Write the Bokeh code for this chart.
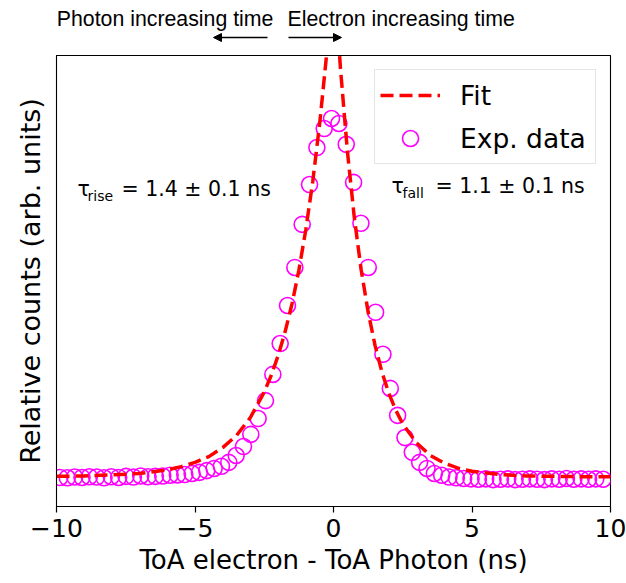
from bokeh.plotting import figure
from bokeh.layouts import column
from bokeh.models import (Range1d, FixedTicker, Label, Arrow, NormalHead,
                          Legend, LegendItem, ColumnDataSource)
from bokeh.core.properties import value
from bokeh.embed import file_html
from bokeh.resources import INLINE

# ---- experimental data (ToA difference in ns, relative counts) ----
exp_x = [-9.875, -9.61, -9.345, -9.08, -8.815, -8.55, -8.285, -8.02, -7.755, -7.49,
         -7.225, -6.96, -6.695, -6.43, -6.165, -5.9, -5.635, -5.37, -5.105, -4.84,
         -4.575, -4.31, -4.045, -3.78, -3.515, -3.25, -2.985, -2.72, -2.455, -2.19,
         -1.925, -1.66, -1.395, -1.13, -0.865, -0.6, -0.335, -0.07,
         0.195, 0.46, 0.725, 0.99, 1.255, 1.52, 1.785, 2.05, 2.315, 2.58,
         2.845, 3.11, 3.375, 3.64, 3.905, 4.17, 4.435, 4.7, 4.965, 5.23,
         5.495, 5.76, 6.025, 6.29, 6.555, 6.82, 7.085, 7.35, 7.615, 7.88,
         8.145, 8.41, 8.675, 8.94, 9.205, 9.47, 9.735]
exp_y = [0.000, -0.001, 0.001, 0.000, 0.002, 0.001, -0.001, 0.002, 0.000, 0.003,
         0.001, 0.004, 0.002, 0.003, 0.004, 0.006, 0.007, 0.008, 0.011, 0.014,
         0.019, 0.025, 0.031, 0.042, 0.061, 0.086, 0.120, 0.164, 0.214, 0.287,
         0.373, 0.479, 0.585, 0.705, 0.816, 0.919, 0.972, 1.000,
         0.986, 0.928, 0.822, 0.708, 0.585, 0.460, 0.343, 0.248, 0.173, 0.111,
         0.070, 0.042, 0.025, 0.011, 0.006, 0.001, -0.001, -0.003, -0.004, -0.005,
         -0.004, -0.006, -0.005, -0.004, -0.006, -0.005, -0.004, -0.005, -0.006, -0.004,
         -0.005, -0.003, -0.005, -0.004, -0.005, -0.004, -0.005]

# ---- fit curve ----
fit_x = [-10, -9, -8, -7, -6.5, -6, -5.5, -5, -4.5, -4, -3.5, -3, -2.5, -2.25, -2,
         -1.75, -1.5, -1.25, -1, -0.75, -0.5, -0.25, 0.01, 0.25, 0.5, 0.75, 1.0,
         1.25, 1.5, 1.75, 2.0, 2.25, 2.5, 3.0, 3.5, 4.0, 4.5, 5.0, 6.0, 7.0, 8.0,
         9.0, 10.0]
fit_y = [0.003, 0.004, 0.007, 0.011, 0.016, 0.021, 0.030, 0.042, 0.058, 0.083, 0.117,
         0.167, 0.238, 0.284, 0.339, 0.405, 0.483, 0.577, 0.690, 0.824, 0.985, 1.177,
         1.418, 1.141, 0.910, 0.725, 0.578, 0.461, 0.368, 0.293, 0.234, 0.187, 0.149,
         0.096, 0.061, 0.040, 0.026, 0.017, 0.008, 0.004, 0.003, 0.002, 0.002]

x_ticks = [-10, -5, 0, 5, 10]
x_tick_labels = ["\u221210", "\u22125", "0", "5", "10"]

rise_text = ("\u03c4", "rise", "= 1.4 \u00b1 0.1 ns")
fall_text = ("\u03c4", "fall", "= 1.1 \u00b1 0.1 ns")
top_texts = ["Photon increasing time", "Electron increasing time"]

BORDER_L, BORDER_R = 56, 16

# ---------------- header strip (texts + arrows above the axes) ----------------
top = figure(frame_width=554, frame_height=55,
             x_range=Range1d(-10, 10), y_range=Range1d(0, 55),
             output_backend="svg", toolbar_location=None,
             x_axis_location=None, y_axis_location=None,
             min_border_left=BORDER_L, min_border_right=BORDER_R,
             min_border_top=0, min_border_bottom=0)
top.outline_line_color = None
top.grid.visible = False
top.background_fill_color = "white"
top.border_fill_color = "white"

top.add_layout(Label(x=-9.99, y=37, text=top_texts[0],
                     text_font="Liberation Sans", text_font_size="21.3px",
                     text_baseline="alphabetic", text_color="black"))
top.add_layout(Label(x=-1.661, y=37, text=top_texts[1],
                     text_font="Liberation Sans", text_font_size="21.3px",
                     text_baseline="alphabetic", text_color="black"))
top.add_layout(Arrow(end=NormalHead(size=8, fill_color="black", line_color="black"),
                     x_start=-2.383, y_start=18, x_end=-4.332, y_end=18,
                     line_width=1.5, line_color="black"))
top.add_layout(Arrow(end=NormalHead(size=8, fill_color="black", line_color="black"),
                     x_start=-1.625, y_start=18, x_end=0.289, y_end=18,
                     line_width=1.5, line_color="black"))

# ---------------- main plot ----------------
p = figure(frame_width=554, frame_height=451,
           x_range=Range1d(-10, 10), y_range=Range1d(-0.081, 1.1755),
           output_backend="svg", toolbar_location=None,
           min_border_left=BORDER_L, min_border_right=BORDER_R,
           min_border_top=0, min_border_bottom=77)
p.xgrid.visible = False
p.ygrid.visible = False
p.outline_line_color = "black"
p.outline_line_width = 1.1
p.outline_line_alpha = 1.0
p.background_fill_color = "white"
p.border_fill_color = "white"

xa = p.xaxis[0]
xa.ticker = FixedTicker(ticks=x_ticks)
xa.major_label_overrides = {t: l for t, l in zip(x_ticks, x_tick_labels)}
xa.minor_tick_line_color = None
xa.major_tick_in = 0
xa.major_tick_out = 6
xa.major_tick_line_width = 1.2
xa.major_tick_line_color = "black"
xa.axis_line_color = "black"
xa.major_label_text_font = "DejaVu Sans"
xa.major_label_text_font_size = "25px"
xa.major_label_text_color = "black"
xa.major_label_standoff = 6
xa.axis_label = "ToA electron - ToA Photon (ns)"
xa.axis_label_text_font = "DejaVu Sans"
xa.axis_label_text_font_size = "26px"
xa.axis_label_text_font_style = "normal"
xa.axis_label_text_color = "black"
xa.axis_label_standoff = 5

ya = p.yaxis[0]
ya.ticker = FixedTicker(ticks=[])
ya.minor_tick_line_color = None
ya.major_tick_line_color = None
ya.major_tick_in = 0
ya.major_tick_out = 0
ya.axis_line_color = "black"
ya.major_label_text_font_size = "0px"
ya.axis_label = "Relative counts (arb. units)"
ya.axis_label_text_font = "DejaVu Sans"
ya.axis_label_text_font_size = "27px"
ya.axis_label_text_font_style = "normal"
ya.axis_label_text_color = "black"
ya.axis_label_standoff = 11

src_exp = ColumnDataSource(dict(x=exp_x, y=exp_y))
src_fit = ColumnDataSource(dict(x=fit_x, y=fit_y))

sc = p.scatter("x", "y", source=src_exp, marker="circle", size=16,
               fill_color=None, line_color="#ff00ff", line_width=1.6)
ln = p.line("x", "y", source=src_fit, line_color="#ff0000", line_width=3.5,
            line_dash="13 6")

legend = Legend(items=[LegendItem(label=value("Fit"), renderers=[ln]),
                       LegendItem(label=value("Exp. data"), renderers=[sc])],
                location="top_right", margin=14, padding=5, spacing=3,
                glyph_width=60, glyph_height=40, label_standoff=20,
                label_width=130,
                label_text_font="DejaVu Sans", label_text_font_size="26.5px",
                label_text_color="black",
                border_line_color="#cccccc", border_line_width=1,
                background_fill_color="white", background_fill_alpha=0.8)
p.add_layout(legend)

# tau annotations
def tau_label(x_tau, x_sub, x_rest, y_base, y_sub, parts):
    p.add_layout(Label(x=x_tau, y=y_base, text=parts[0], text_font="DejaVu Sans",
                       text_font_size="20.5px", text_baseline="alphabetic",
                       text_color="black"))
    p.add_layout(Label(x=x_sub, y=y_sub, text=parts[1], text_font="DejaVu Sans",
                       text_font_size="14px", text_baseline="alphabetic",
                       text_color="black"))
    p.add_layout(Label(x=x_rest, y=y_base, text=parts[2], text_font="DejaVu Sans",
                       text_font_size="20.5px", text_baseline="alphabetic",
                       text_color="black"))

tau_label(-9.242, -8.881, -7.653, 0.8022, 0.7827, rise_text)
tau_label(2.094, 2.491, 3.682, 0.8106, 0.7911, fall_text)

layout = column(top, p, spacing=0)
open("out.html", "w").write(file_html(layout, INLINE))
